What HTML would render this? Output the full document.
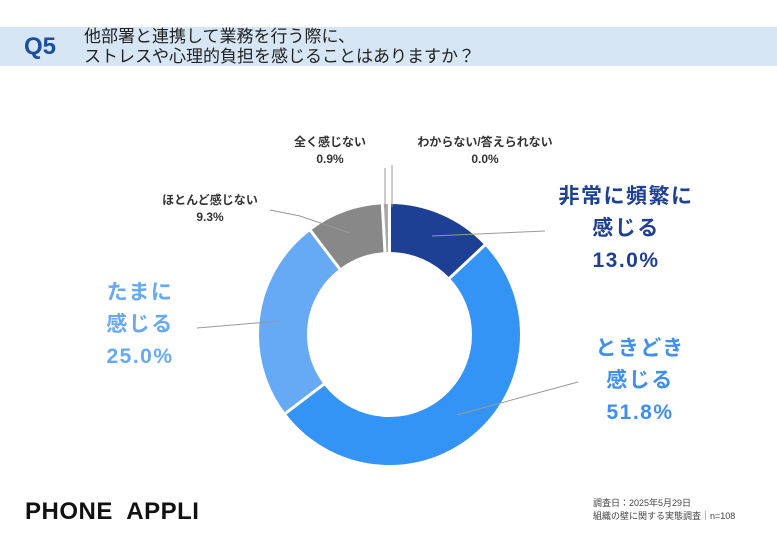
<!DOCTYPE html>
<html><head><meta charset="utf-8"><style>
body{margin:0;width:777px;height:536px;background:#fff;position:relative;overflow:hidden;font-family:"Liberation Sans","Noto Sans CJK JP",sans-serif}
.band{position:absolute;left:0;top:27px;width:777px;height:39px;background:#d7e6f4}
.q{position:absolute;left:24px;top:33px;font-size:24px;font-weight:bold;color:#1c4ea0}
.t{position:absolute;left:84px;top:27px;font-size:17px;line-height:20px;color:#222}
.l{position:absolute;text-align:center;font-weight:bold;white-space:nowrap}
.big{font-size:21px;line-height:32px;letter-spacing:1.5px}
.sm{font-size:12px;line-height:17px;color:#333}
</style></head><body>
<div class="band"></div>
<div class="q">Q5</div>
<div class="t">他部署と連携して業務を行う際に、<br>ストレスや心理的負担を感じることはありますか？</div>
<svg width="777" height="536" style="position:absolute;left:0;top:0">
<g transform="rotate(-90 389.5 334.5)" fill="none" stroke-width="48">
<circle cx="389.5" cy="334.5" r="106.5" stroke="#1d3f94" stroke-dasharray="86.99 1000" stroke-dashoffset="0"/>
<circle cx="389.5" cy="334.5" r="106.5" stroke="#3394f5" stroke-dasharray="346.6 1000" stroke-dashoffset="-86.99"/>
<circle cx="389.5" cy="334.5" r="106.5" stroke="#66aaf5" stroke-dasharray="167.3 1000" stroke-dashoffset="-433.6"/>
<circle cx="389.5" cy="334.5" r="106.5" stroke="#888888" stroke-dasharray="62.2 1000" stroke-dashoffset="-600.9"/>
<circle cx="389.5" cy="334.5" r="106.5" stroke="#aaaaaa" stroke-dasharray="6.02 1000" stroke-dashoffset="-663.1"/>
</g>
<g stroke="#fff" stroke-width="3">
<line x1="389.5" y1="334.5" x2="389.5" y2="200"/>
<line x1="389.5" y1="334.5" x2="489.7" y2="240.5"/>
<line x1="389.5" y1="334.5" x2="285.5" y2="413.3"/>
<line x1="389.5" y1="334.5" x2="309.7" y2="229.5"/>
<line x1="389.5" y1="334.5" x2="382.1" y2="200"/>
</g>
<g stroke="#999" stroke-width="1" fill="none">
<line x1="432" y1="236" x2="545" y2="231"/>
<polyline points="457,415 530,395 578,382"/>
<line x1="197" y1="328" x2="280" y2="321"/>
<polyline points="270,210 300,216 350,233"/>
<line x1="385" y1="168" x2="385" y2="207"/>
<line x1="392" y1="165" x2="392" y2="207"/>
</g>
</svg>
<div class="l big" style="left:526px;top:181px;width:200px;color:#1d3f94">非常に頻繁に<br>感じる<br>13.0%</div>
<div class="l big" style="left:580px;top:333px;width:120px;color:#3f8fef">ときどき<br>感じる<br>51.8%</div>
<div class="l big" style="left:90px;top:277px;width:100px;color:#66aaf5">たまに<br>感じる<br>25.0%</div>
<div class="l sm" style="left:150px;top:192px;width:120px">ほとんど感じない<br>9.3%</div>
<div class="l sm" style="left:280px;top:134px;width:100px">全く感じない<br>0.9%</div>
<div class="l sm" style="left:400px;top:134px;width:170px">わからない/答えられない<br>0.0%</div>
<div style="position:absolute;left:25px;top:498px;font-size:24px;font-weight:bold;color:#111;letter-spacing:0.5px">PHONE&nbsp; APPLI</div>
<div style="position:absolute;left:593px;top:497px;font-size:9px;line-height:13px;color:#444">調査日：2025年5月29日<br>組織の壁に関する実態調査｜n=108</div>
</body></html>
